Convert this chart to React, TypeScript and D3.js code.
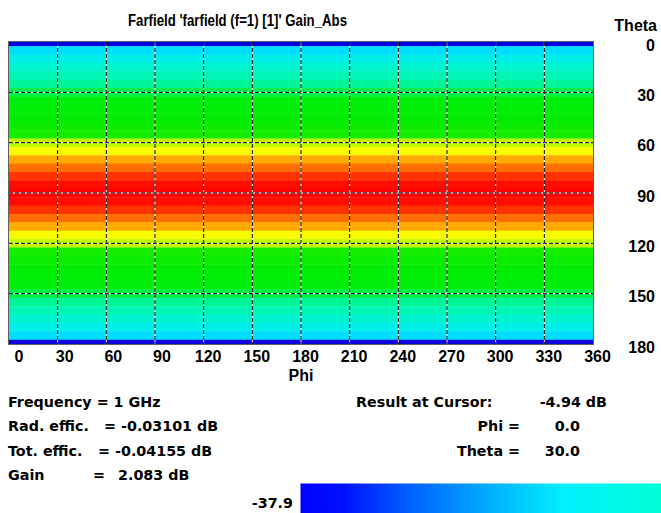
import React from 'react';
import * as d3 from 'd3';

// ---- data ----
const thetaDeg = [0, 5, 10, 15, 20, 25, 30, 35, 40, 45, 50, 55, 60, 65, 70, 75, 80, 85, 90,
  95, 100, 105, 110, 115, 120, 125, 130, 135, 140, 145, 150, 155, 160, 165, 170, 175, 180];
const gainDb = [-37.9, -20.0, -14.0, -10.6, -8.1, -6.3, -4.94, -3.5, -2.4, -1.5, -0.7, 0.0, 0.55, 1.0, 1.4, 1.7, 1.92, 2.03, 2.083,
  2.03, 1.92, 1.7, 1.4, 1.0, 0.55, 0.0, -0.7, -1.5, -2.4, -3.5, -4.94, -6.3, -8.1, -10.6, -14.0, -20.0, -37.9];
const phiTicks = [0, 30, 60, 90, 120, 150, 180, 210, 240, 270, 300, 330, 360];
const thetaTicks = [0, 30, 60, 90, 120, 150, 180];
const infoLabels = ['Rad. effic.', 'Tot. effic.', 'Gain'];
const infoValues = ['-0.03101 dB', '-0.04155 dB', '2.083 dB'];
const cursorLabels = ['Phi =', 'Theta ='];
const cursorValues = ['0.0', '30.0'];

// colour map (gain in dB -> colour)
const cmapValues = [-37.9, -20, -14, -10.6, -8.1, -6.3, -4.94, -3.5, -1.5, 0, 0.55, 1.0, 1.4, 1.7, 1.92, 2.03, 2.083];
const cmapColors = ['rgb(0,0,225)', 'rgb(0,222,255)', 'rgb(0,238,232)', 'rgb(0,244,208)', 'rgb(0,245,182)', 'rgb(0,245,150)',
  'rgb(0,242,70)', 'rgb(0,238,10)', 'rgb(0,236,0)', 'rgb(20,238,0)', 'rgb(190,250,0)', 'rgb(248,250,0)', 'rgb(255,170,0)',
  'rgb(255,110,0)', 'rgb(255,50,0)', 'rgb(255,12,0)', 'rgb(255,0,0)'];
const barOffsets = [0, 0.12, 0.31, 0.54, 0.73, 1];
const barColors = ['#0000ff', '#0010ff', '#0064ff', '#00b4ff', '#00f0ff', '#00ffd7'];

const W = 661, H = 513;
const axisFont = "'Liberation Sans', Arial, sans-serif";
const infoFont = "'DejaVu Sans', Verdana, sans-serif";

export default function App() {
  const x = d3.scaleLinear().domain([0, 360]).range([9, 593]);
  const y = d3.scaleLinear().domain([0, 180]).range([42, 344]);
  const color = d3.scaleLinear<string>().domain(cmapValues).range(cmapColors).interpolate(d3.interpolateRgb).clamp(true);
  const half = 2.5;

  const rows = thetaDeg.map((t, i) => {
    const t0 = Math.max(0, t - half), t1 = Math.min(180, t + half);
    return { t, y0: y(t0), y1: y(t1), c: color(gainDb[i]) };
  });

  const phiLabelX = (v: number) => {
    const s = String(v);
    return x(v) + (s.length === 1 ? 10 : s.length === 2 ? 7 : 4.5);
  };

  const info = { fontFamily: infoFont, fontWeight: 700, fontSize: 14.3, fill: '#000' } as const;
  const axis = { fontFamily: axisFont, fontWeight: 700, fontSize: 16, fill: '#000' } as const;
  const infoBaselines = [431, 455.5, 480];
  const eqX = [104, 98, 93];
  const valX = [121, 115, 118];

  return (
    <svg width={W} height={H} style={{ position: 'absolute', left: 0, top: 0, background: '#fff' }}>
      <defs>
        <linearGradient id="cbar" x1="0" x2="1" y1="0" y2="0">
          {barOffsets.map((o, i) => <stop key={i} offset={o} stopColor={barColors[i]} />)}
        </linearGradient>
      </defs>
      <rect x={0} y={0} width={W} height={H} fill="#fff" />
      <text x={128} y={26} textLength={219} lengthAdjust="spacingAndGlyphs"
        style={{ fontFamily: "'Liberation Sans Narrow', 'Liberation Sans', Arial, sans-serif", fontWeight: 700, fontSize: 16 }}>
        Farfield 'farfield (f=1) [1]' Gain_Abs
      </text>

      {/* heat map rows */}
      {rows.map((r) => (
        <rect key={r.t} x={x(0)} y={r.y0} width={x(360) - x(0)} height={r.y1 - r.y0 + 0.4} fill={r.c} />
      ))}

      {/* grid */}
      {phiTicks.slice(1, -1).map((p) => (
        <g key={'v' + p}>
          <line x1={x(p)} x2={x(p)} y1={y(0)} y2={y(180)} stroke="#fff" strokeWidth={1} />
          <line x1={x(p)} x2={x(p)} y1={y(0)} y2={y(180)} stroke="#000" strokeWidth={1} strokeDasharray="4 2" />
        </g>
      ))}
      {thetaTicks.slice(1, -1).map((t) => (
        <g key={'h' + t}>
          <line x1={x(0)} x2={x(360)} y1={y(t)} y2={y(t)} stroke="#fff" strokeWidth={1} />
          <line x1={x(0)} x2={x(360)} y1={y(t)} y2={y(t)} stroke="#000" strokeWidth={1} strokeDasharray="4 2" />
        </g>
      ))}
      <rect x={x(0) - 0.5} y={y(0) - 0.5} width={x(360) - x(0) + 1} height={y(180) - y(0) + 1}
        fill="none" stroke="#606060" strokeWidth={1} />

      {/* phi axis */}
      {phiTicks.map((p) => (
        <text key={'pl' + p} x={phiLabelX(p)} y={362} textAnchor="middle" style={axis}>{p}</text>
      ))}
      <text x={x(180)} y={381} textAnchor="middle" style={axis}>Phi</text>

      {/* theta axis */}
      <text x={657} y={31} textAnchor="end" style={axis}>Theta</text>
      {thetaTicks.map((t) => (
        <text key={'tl' + t} x={655} y={y(t) + 8.5} textAnchor="end" style={axis}>{t}</text>
      ))}

      {/* info block */}
      <text x={8} y={406.7} style={info}>Frequency = 1 GHz</text>
      {infoLabels.map((l, i) => (
        <g key={l}>
          <text x={8} y={infoBaselines[i]} style={info}>{l}</text>
          <text x={eqX[i]} y={infoBaselines[i]} style={info}>=</text>
          <text x={valX[i]} y={infoBaselines[i]} style={info}>{infoValues[i]}</text>
        </g>
      ))}

      <text x={356} y={406.7} style={info}>Result at Cursor:</text>
      <text x={607} y={406.7} textAnchor="end" style={info}>-4.94 dB</text>
      {cursorLabels.map((l, i) => (
        <g key={l}>
          <text x={520} y={infoBaselines[i]} textAnchor="end" style={info}>{l}</text>
          <text x={580} y={infoBaselines[i]} textAnchor="end" style={info}>{cursorValues[i]}</text>
        </g>
      ))}

      {/* colour bar */}
      <text x={293} y={508} textAnchor="end" style={info}>-37.9</text>
      <rect x={300.5} y={483.5} width={W - 300.5} height={H - 483.5} fill="url(#cbar)" />
    </svg>
  );
}
